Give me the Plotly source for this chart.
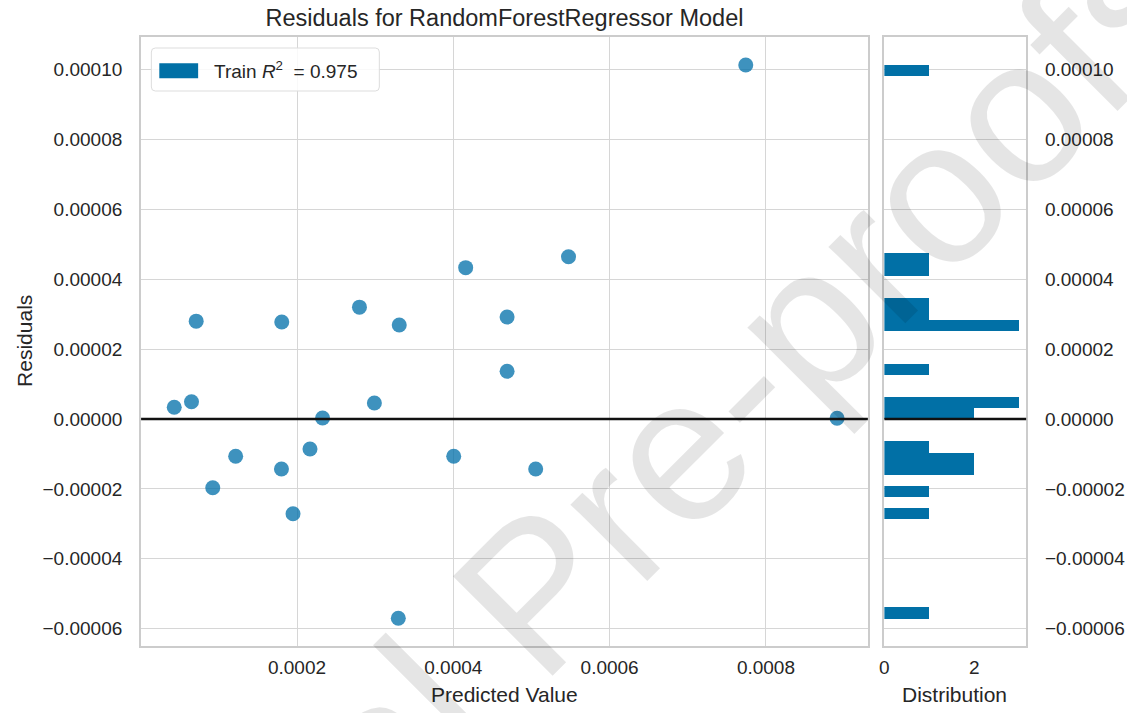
import numpy as np
import plotly.graph_objects as go

# Predicted values and residuals of the training set
predicted = [
    0.0000429, 0.0000650, 0.0000710, 0.0000922, 0.0001215, 0.0001801,
    0.0001805, 0.0001949, 0.0002166, 0.0002327, 0.0002799, 0.0002990,
    0.0003308, 0.0003296, 0.0004005, 0.0004158, 0.0004688, 0.0004688,
    0.0005054, 0.0005474, 0.0007742, 0.0008910,
]
residuals = [
    0.335e-5, 0.495e-5, 2.800e-5, -1.966e-5, -1.067e-5, -1.430e-5,
    2.775e-5, -2.710e-5, -0.858e-5, 0.030e-5, 3.200e-5, 0.458e-5,
    2.690e-5, -5.700e-5, -1.067e-5, 4.330e-5, 2.920e-5, 1.365e-5,
    -1.430e-5, 4.644e-5, 10.130e-5, 0.020e-5,
]
r2_train = 0.975
n_bins = 50

x_ticks = [0.0002, 0.0004, 0.0006, 0.0008]
y_ticks = [-0.00006, -0.00004, -0.00002, 0.0, 0.00002, 0.00004, 0.00006, 0.00008, 0.00010]

W, H = 1127, 713
FONT = "Liberation Sans, Arial, sans-serif"
TXT = "#262626"
BAR = "#0170a6"
PT = "rgba(1,112,170,0.76)"
FRAME = "#cccccc"
GRID = "#d6d6d6"

# Histogram of residuals (numpy bins, like matplotlib's hist)
counts, edges = np.histogram(residuals, bins=n_bins)
centers = (edges[:-1] + edges[1:]) / 2
bw = edges[1] - edges[0]


def px(xp):
    return xp / W


def py(yp):
    return 1 - yp / H


main_x = [px(136.7), px(866.7)]
hist_x = [px(883.3), px(1025.7)]
dom_y = [py(645.7), py(36.7)]

fig = go.Figure()

fig.add_trace(go.Scatter(
    x=predicted, y=residuals, mode="markers",
    marker=dict(size=15, color=PT, line=dict(width=0)),
    xaxis="x", yaxis="y", showlegend=False, hoverinfo="x+y",
))

fig.add_trace(go.Bar(
    x=counts, y=centers, width=bw, orientation="h",
    marker=dict(color=BAR, line=dict(width=0)),
    xaxis="x2", yaxis="y2", showlegend=False,
))

axis_common = dict(
    showline=True, mirror=True, linecolor=FRAME, linewidth=2,
    gridcolor=GRID, gridwidth=1.4, zeroline=False,
    tickfont=dict(family=FONT, size=19, color=TXT),
    ticks="",
)

fig.update_layout(
    width=W, height=H,
    margin=dict(l=0, r=0, t=0, b=0),
    paper_bgcolor="white", plot_bgcolor="white",
    font=dict(family=FONT, color=TXT),
    bargap=0,
    title=dict(
        text="Residuals for RandomForestRegressor Model",
        x=px(501.7), y=py(18), xanchor="center", yanchor="middle",
        xref="paper", yref="paper",
        font=dict(family=FONT, size=23.5, color=TXT),
    ),
    xaxis=dict(
        domain=main_x, range=[0.0000005, 0.0009304],
        tickvals=x_ticks, tickformat=".4f", showgrid=True,
        ticklabelstandoff=3, anchor="y", **axis_common,
    ),
    yaxis=dict(
        domain=dom_y, range=[-0.00006487, 0.00010939],
        tickvals=y_ticks, tickformat=".5f", showgrid=True,
        ticklabelstandoff=13, anchor="x", **axis_common,
    ),
    xaxis2=dict(
        domain=hist_x, range=[0, 3.157],
        tickvals=[0, 2], showgrid=False,
        ticklabelstandoff=3, anchor="y2", **axis_common,
    ),
    yaxis2=dict(
        domain=dom_y, range=[-0.00006487, 0.00010939],
        tickvals=y_ticks, tickformat=".5f", showgrid=True,
        side="right", ticklabelstandoff=13, anchor="x2", **axis_common,
    ),
)

# Zero-residual reference line in both panels
for xr, yr in (("x domain", "y"), ("x2 domain", "y2")):
    fig.add_shape(type="line", xref=xr, yref=yr, x0=0, x1=1, y0=0, y1=0,
                  line=dict(color="#111111", width=2.6), layer="above")

# Legend box
lx0, lx1, ly0, ly1, r = 147, 376, 48, 91, 4
path = (f"M {px(lx0 + r)} {py(ly0)} L {px(lx1 - r)} {py(ly0)} "
        f"Q {px(lx1)} {py(ly0)} {px(lx1)} {py(ly0 + r)} "
        f"L {px(lx1)} {py(ly1 - r)} Q {px(lx1)} {py(ly1)} {px(lx1 - r)} {py(ly1)} "
        f"L {px(lx0 + r)} {py(ly1)} Q {px(lx0)} {py(ly1)} {px(lx0)} {py(ly1 - r)} "
        f"L {px(lx0)} {py(ly0 + r)} Q {px(lx0)} {py(ly0)} {px(lx0 + r)} {py(ly0)} Z")
fig.add_shape(type="path", path=path, xref="paper", yref="paper",
              fillcolor="rgba(255,255,255,0.85)", line=dict(color="#dddddd", width=1),
              layer="above")
fig.add_shape(type="rect", xref="paper", yref="paper",
              x0=px(155), x1=px(194), y0=py(78.3), y1=py(63.3),
              fillcolor=BAR, line=dict(width=0), layer="above")
fig.add_annotation(
    text=f"Train <i>R</i><sup>2</sup>\u00a0\u00a0=\u00a0{r2_train:.3f}",
    x=px(208), y=py(70.5), xref="paper", yref="paper",
    xanchor="left", yanchor="middle", showarrow=False,
    font=dict(family=FONT, size=19, color=TXT),
)

# Axis titles
fig.add_annotation(text="Predicted Value", x=px(501.7), y=py(694),
                   xref="paper", yref="paper", showarrow=False,
                   xanchor="center", yanchor="middle",
                   font=dict(family=FONT, size=21, color=TXT))
fig.add_annotation(text="Distribution", x=px(954), y=py(694),
                   xref="paper", yref="paper", showarrow=False,
                   xanchor="center", yanchor="middle",
                   font=dict(family=FONT, size=21, color=TXT))
fig.add_annotation(text="Residuals", x=px(19), y=py(341), textangle=-90,
                   xref="paper", yref="paper", showarrow=False,
                   xanchor="center", yanchor="middle",
                   font=dict(family=FONT, size=21, color=TXT))

# Watermark
fig.add_annotation(text="Journal Pre-proofs", x=px(568), y=py(556),
                   xref="paper", yref="paper", showarrow=False,
                   textangle=-45, xanchor="center", yanchor="middle",
                   font=dict(family=FONT, size=205, color="rgba(0,0,0,0.1)"))

fig.write_html("out.html")
